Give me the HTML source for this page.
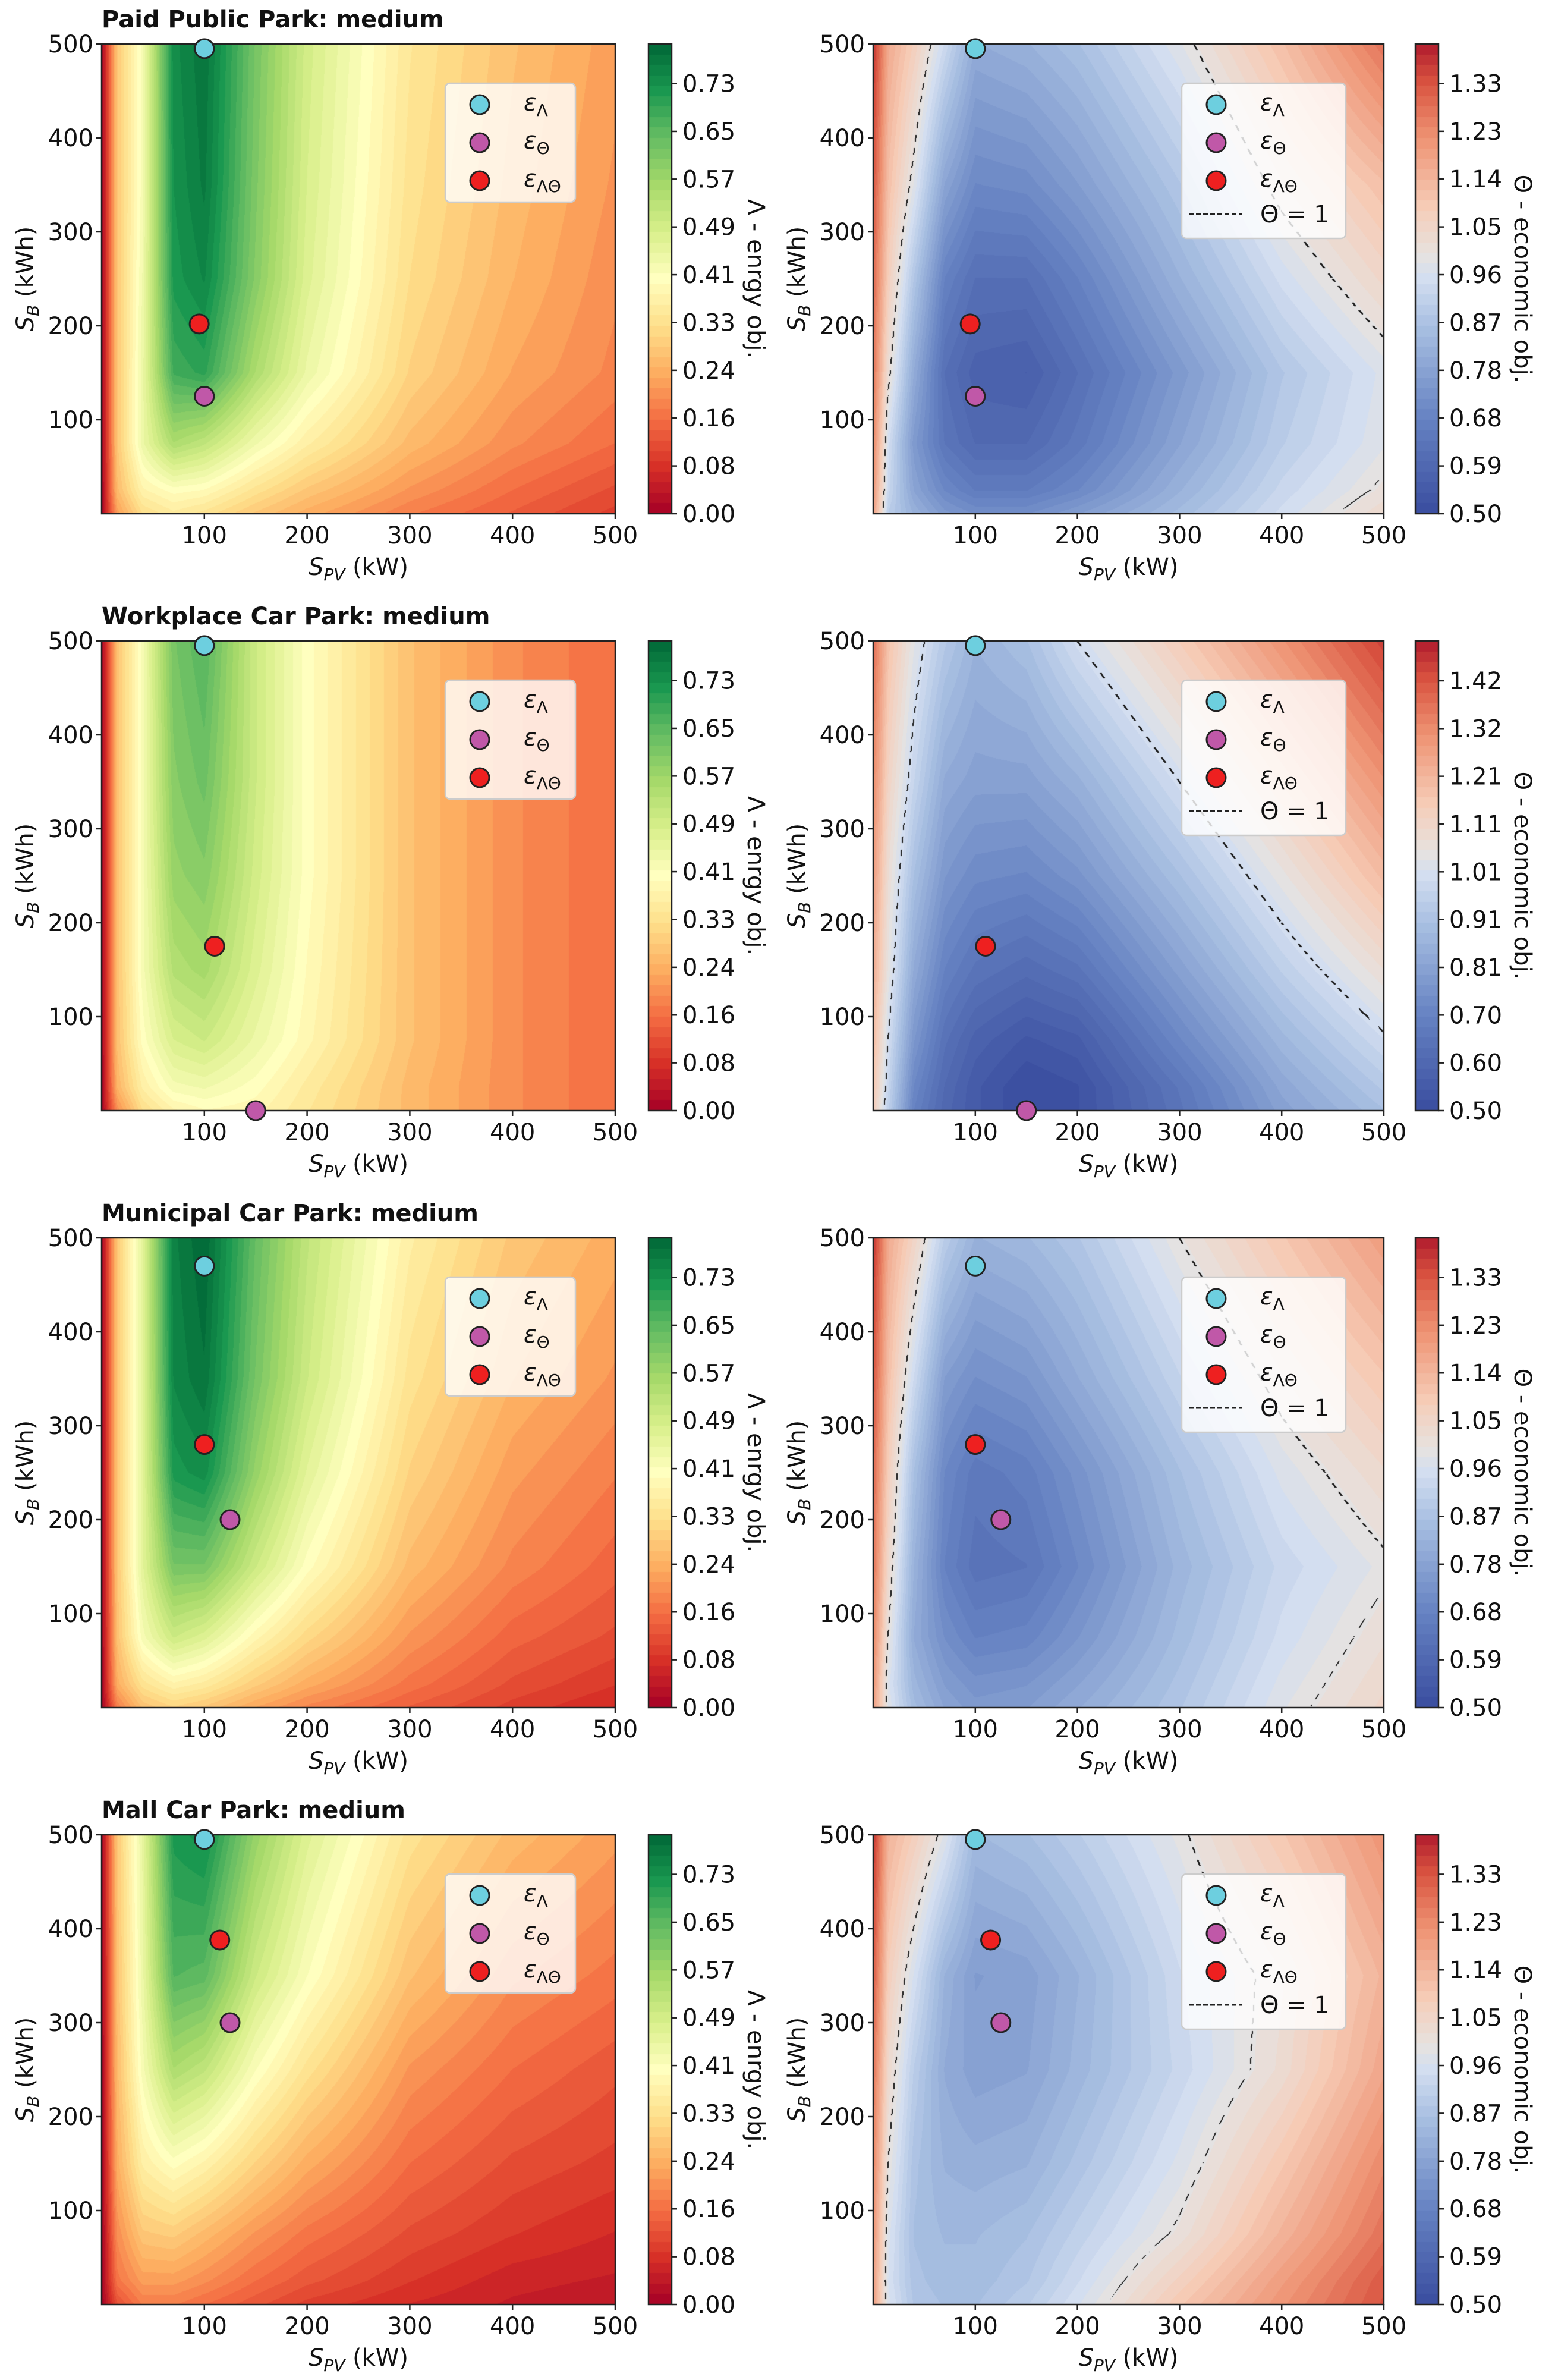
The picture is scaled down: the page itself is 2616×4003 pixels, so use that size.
<!DOCTYPE html>
<html><head><meta charset="utf-8">
<style>
html,body{margin:0;padding:0;background:#fff;}
#wrap{position:relative;width:2616px;height:4003px;overflow:hidden;background:#fff;}
canvas{position:absolute;}
svg{position:absolute;left:0;top:0;}
</style></head>
<body>
<div id="wrap">
<svg id="ov" width="2616" height="4003"></svg>
</div>
<script>
// ---- grid coordinates (data units) ----
const xGrid = [0,15,40,70,100,150,200,300,400,500];
const yGrid = [0,25,75,150,250,350,500];
// ---- energy objective grids (rows = yGrid, cols = xGrid) ----
const paidEnergy = [
[0.0,0.22,0.32,0.35,0.33,0.28,0.24,0.18,0.14,0.10],
[0.0,0.26,0.37,0.40,0.39,0.33,0.28,0.21,0.16,0.12],
[0.0,0.28,0.44,0.55,0.52,0.43,0.36,0.26,0.20,0.16],
[0.0,0.28,0.44,0.68,0.70,0.55,0.44,0.30,0.23,0.19],
[0.0,0.28,0.43,0.72,0.75,0.60,0.47,0.32,0.25,0.20],
[0.0,0.28,0.42,0.73,0.77,0.61,0.48,0.33,0.26,0.21],
[0.0,0.28,0.42,0.74,0.78,0.62,0.49,0.34,0.27,0.22]];
const workEnergy = [
[0.0,0.20,0.32,0.37,0.39,0.38,0.34,0.26,0.20,0.16],
[0.0,0.25,0.36,0.42,0.43,0.40,0.35,0.26,0.20,0.16],
[0.0,0.27,0.40,0.48,0.50,0.44,0.38,0.27,0.20,0.16],
[0.0,0.27,0.42,0.54,0.56,0.47,0.39,0.27,0.20,0.16],
[0.0,0.27,0.42,0.58,0.60,0.49,0.40,0.27,0.20,0.16],
[0.0,0.27,0.42,0.60,0.63,0.50,0.40,0.27,0.20,0.16],
[0.0,0.27,0.42,0.62,0.66,0.50,0.40,0.27,0.20,0.16]];
const muniEnergy = [
[0.0,0.18,0.27,0.30,0.28,0.23,0.19,0.14,0.10,0.07],
[0.0,0.24,0.33,0.37,0.35,0.29,0.24,0.17,0.12,0.09],
[0.0,0.27,0.42,0.50,0.47,0.38,0.31,0.21,0.15,0.12],
[0.0,0.28,0.46,0.62,0.62,0.50,0.40,0.26,0.19,0.15],
[0.0,0.28,0.46,0.72,0.74,0.58,0.46,0.30,0.22,0.18],
[0.0,0.28,0.46,0.75,0.78,0.62,0.50,0.33,0.25,0.21],
[0.0,0.28,0.46,0.76,0.80,0.64,0.52,0.36,0.28,0.24]];
const mallEnergy = [
[0.0,0.12,0.18,0.18,0.16,0.13,0.10,0.07,0.05,0.04],
[0.0,0.17,0.22,0.22,0.20,0.16,0.13,0.09,0.06,0.05],
[0.0,0.20,0.28,0.29,0.26,0.21,0.17,0.12,0.09,0.07],
[0.0,0.24,0.36,0.40,0.37,0.30,0.24,0.16,0.12,0.10],
[0.0,0.26,0.42,0.55,0.52,0.41,0.33,0.21,0.16,0.13],
[0.0,0.27,0.44,0.66,0.65,0.50,0.41,0.27,0.20,0.17],
[0.0,0.28,0.45,0.72,0.74,0.58,0.47,0.33,0.26,0.22]];
// ---- economic objective grids ----
const paidEcon = [
[1.20,0.90,0.82,0.75,0.72,0.72,0.76,0.85,0.95,1.04],
[1.22,0.93,0.78,0.70,0.66,0.66,0.70,0.82,0.93,1.01],
[1.25,0.95,0.75,0.64,0.60,0.60,0.65,0.78,0.90,0.98],
[1.28,1.02,0.80,0.62,0.57,0.56,0.62,0.75,0.88,0.97],
[1.30,1.08,0.88,0.68,0.62,0.62,0.68,0.82,0.95,1.05],
[1.33,1.12,0.98,0.78,0.70,0.71,0.76,0.88,1.02,1.12],
[1.38,1.17,1.08,0.94,0.80,0.82,0.86,0.98,1.12,1.28]];
const workEcon = [
[1.15,0.95,0.70,0.60,0.55,0.50,0.52,0.65,0.80,0.90],
[1.17,0.97,0.72,0.61,0.55,0.50,0.52,0.66,0.82,0.93],
[1.20,1.00,0.77,0.64,0.58,0.54,0.56,0.72,0.87,0.99],
[1.24,1.05,0.83,0.70,0.65,0.62,0.65,0.80,0.95,1.08],
[1.28,1.08,0.90,0.77,0.73,0.72,0.76,0.90,1.05,1.20],
[1.32,1.12,0.97,0.83,0.80,0.80,0.85,1.00,1.15,1.30],
[1.38,1.18,1.04,0.93,0.86,0.90,1.00,1.15,1.30,1.45]];
const muniEcon = [
[1.20,0.98,0.85,0.78,0.75,0.76,0.80,0.88,0.98,1.05],
[1.22,0.97,0.83,0.76,0.73,0.74,0.78,0.87,0.97,1.04],
[1.25,1.00,0.80,0.72,0.68,0.69,0.74,0.85,0.95,1.02],
[1.28,1.04,0.82,0.68,0.63,0.64,0.70,0.83,0.93,0.99],
[1.30,1.08,0.86,0.70,0.65,0.67,0.73,0.86,0.97,1.04],
[1.33,1.12,0.94,0.76,0.72,0.74,0.80,0.92,1.02,1.10],
[1.38,1.17,1.06,0.90,0.82,0.84,0.88,1.00,1.10,1.20]];
const mallEcon = [
[1.20,0.97,0.88,0.86,0.86,0.90,0.96,1.10,1.22,1.33],
[1.20,0.96,0.87,0.85,0.85,0.88,0.94,1.07,1.20,1.32],
[1.22,0.97,0.86,0.84,0.84,0.86,0.91,1.01,1.15,1.28],
[1.25,1.00,0.87,0.82,0.81,0.82,0.87,0.97,1.10,1.24],
[1.28,1.04,0.90,0.80,0.77,0.78,0.83,0.93,1.03,1.18],
[1.32,1.08,0.96,0.82,0.76,0.77,0.82,0.94,1.02,1.15],
[1.38,1.15,1.08,0.98,0.84,0.86,0.90,0.99,1.10,1.22]];
// ---- optimal points [S_PV, S_B] ----
const paidPoints = [[100,495],[100,125],[95,202]];
const workPoints = [[100,495],[150,0],[110,175]];
const muniPoints = [[100,470],[125,200],[100,280]];
const mallPoints = [[100,495],[125,300],[115,388]];
// ---- tick labels ----
const axisTicks = [100,200,300,400,500];
const energyTickLabels = ["0.00","0.08","0.16","0.24","0.33","0.41","0.49","0.57","0.65","0.73"];
const econTickLabelsA = ["0.50","0.59","0.68","0.78","0.87","0.96","1.05","1.14","1.23","1.33"];
const econTickLabelsB = ["0.50","0.60","0.70","0.81","0.91","1.01","1.11","1.21","1.32","1.42"];
const titles = ["Paid Public Park: medium","Workplace Car Park: medium","Municipal Car Park: medium","Mall Car Park: medium"];

const energyStep = 0.0815, energyMax = 0.801;
const econStepA = 0.0922, econMaxA = 1.406;
const econStepB = 0.1022, econMaxB = 1.505;

const rows = [
 {e:paidEnergy, c:paidEcon, p:paidPoints, lab:econTickLabelsA, step:econStepA, max:econMaxA},
 {e:workEnergy, c:workEcon, p:workPoints, lab:econTickLabelsB, step:econStepB, max:econMaxB},
 {e:muniEnergy, c:muniEcon, p:muniPoints, lab:econTickLabelsA, step:econStepA, max:econMaxA},
 {e:mallEnergy, c:mallEcon, p:mallPoints, lab:econTickLabelsA, step:econStepA, max:econMaxA}];

const RdYlGn = ["#a50026","#d73027","#f46d43","#fdae61","#fee08b","#ffffbf","#d9ef8b","#a6d96a","#66bd63","#1a9850","#006837"];
const CoolRd = [[0,"#3a4d9f"],[0.2,"#6582c2"],[0.4,"#a9c0e2"],[0.5,"#d3def0"],[0.55,"#e6e2e0"],[0.65,"#f6cdb8"],[0.8,"#ee9373"],[0.92,"#d8523f"],[1,"#b01c2e"]];
function hex(h){return [parseInt(h.substr(1,2),16),parseInt(h.substr(3,2),16),parseInt(h.substr(5,2),16)];}
function cmapE(t){t=Math.max(0,Math.min(1,t));const s=t*10,i=Math.min(9,Math.floor(s)),f=s-i;const a=hex(RdYlGn[i]),b=hex(RdYlGn[i+1]);return [a[0]+(b[0]-a[0])*f,a[1]+(b[1]-a[1])*f,a[2]+(b[2]-a[2])*f];}
function cmapC(t){t=Math.max(0,Math.min(1,t));for(let i=0;i<CoolRd.length-1;i++){if(t<=CoolRd[i+1][0]){const f=(t-CoolRd[i][0])/(CoolRd[i+1][0]-CoolRd[i][0]);const a=hex(CoolRd[i][1]),b=hex(CoolRd[i+1][1]);return [a[0]+(b[0]-a[0])*f,a[1]+(b[1]-a[1])*f,a[2]+(b[2]-a[2])*f];}}return hex(CoolRd[CoolRd.length-1][1]);}
function seg(arr,v){for(let i=0;i<arr.length-1;i++){if(v<=arr[i+1])return [i,(v-arr[i])/(arr[i+1]-arr[i])];}return [arr.length-2,1];}
function interp(g,x,y){const [i,fx]=seg(xGrid,x),[j,fy]=seg(yGrid,y);const a=g[j][i],b=g[j][i+1],c=g[j+1][i],d=g[j+1][i+1];return (a*(1-fx)+b*fx)*(1-fy)+(c*(1-fx)+d*fx)*fy;}

const wrap=document.getElementById('wrap');
const NL=45;
function field(left,top,w,h,grid,vmin,vmax,cm,contour,name){
 const cv=document.createElement('canvas');cv.width=w;cv.height=h;cv.style.left=left+'px';cv.style.top=top+'px';
 
 
 wrap.insertBefore(cv,document.getElementById('ov'));
 const ctx=cv.getContext('2d');const im=ctx.createImageData(w,h);
 const vals=new Float32Array(w*h);
 for(let py=0;py<h;py++){const y=(1-(py+0.5)/h)*500;for(let px=0;px<w;px++){vals[py*w+px]=interp(grid,(px+0.5)/w*500,y);}}
 for(let k=0;k<w*h;k++){const v=vals[k];let idx=Math.floor((v-vmin)/(vmax-vmin)*NL);idx=Math.max(0,Math.min(NL-1,idx));const c=cm((idx+0.5)/NL);im.data[k*4]=c[0];im.data[k*4+1]=c[1];im.data[k*4+2]=c[2];im.data[k*4+3]=255;}
 if(contour){for(let py=0;py<h-2;py++)for(let px=0;px<w-2;px++){const v=vals[py*w+px]-1;const r=vals[py*w+px+2]-1,d=vals[(py+2)*w+px]-1;
  if((v<0)!=(r<0)||(v<0)!=(d<0)){
   const gx=Math.abs(r-v), gy=Math.abs(d-v);
   // along-line coordinate: steep line (gradient mostly in x) -> use y; flat line -> use x
   const s = gx>gy ? py*Math.sqrt(1+(gy/gx)*(gy/gx)) : px*Math.sqrt(1+(gx/(gy||1e-9))*(gx/(gy||1e-9)));
   if(Math.floor(s/11)%2==0){const k=py*w+px;im.data[k*4]=25;im.data[k*4+1]=25;im.data[k*4+2]=25;}}}}
 ctx.putImageData(im,0,0);
}
function cbar(left,top,w,h,vmin,vmax,cm,name){
 const cv=document.createElement('canvas');cv.width=w;cv.height=h;cv.style.left=left+'px';cv.style.top=top+'px';
 
 
 wrap.insertBefore(cv,document.getElementById('ov'));
 const ctx=cv.getContext('2d');
 for(let py=0;py<h;py++){const v=vmin+(1-(py+0.5)/h)*(vmax-vmin);let idx=Math.floor((v-vmin)/(vmax-vmin)*NL);idx=Math.max(0,Math.min(NL-1,idx));const c=cm((idx+0.5)/NL);ctx.fillStyle='rgb('+c.map(Math.round).join(',')+')';ctx.fillRect(0,py,w,1);}
}
const ov=document.getElementById('ov');const NS='http://www.w3.org/2000/svg';
function mk(tag,attrs,txt){const e=document.createElementNS(NS,tag);for(const k in attrs)e.setAttribute(k,attrs[k]);if(txt!==undefined)e.textContent=txt;ov.appendChild(e);return e;}
const FONT='"DejaVu Sans","Liberation Sans",sans-serif';
const ROW0=74, ROWH=1004, PH=790;
const LX=171, LW=864, RX=1469, RW=859;
const CBL=1091, CBR=2381, CBW=39;
const mcol=["#6dcfdf","#c058a8","#ee2020"];
const mnames=["epsilon-lambda-point","epsilon-theta-point","epsilon-lambda-theta-point"];
const subs=["Λ","Θ","ΛΘ"];

function axes(x0,y0,w,h,prefix){
 const fr=mk('rect',{x:x0,y:y0,width:w,height:h,fill:'none',stroke:'#222','stroke-width':2.5});
 
 
 axisTicks.forEach(t=>{
  const px=x0+t/500*w;
  const tk=mk('line',{x1:px,y1:y0+h,x2:px,y2:y0+h+9,stroke:'#222','stroke-width':2.5});
  
  
  const tl=mk('text',{x:px,y:y0+h+50,'text-anchor':'middle','font-family':FONT,'font-size':40,fill:'#111'},String(t));
  
  
  const py=y0+h-t/500*h;
  const ty=mk('line',{x1:x0-9,y1:py,x2:x0,y2:py,stroke:'#222','stroke-width':2.5});
  
  
  const yl=mk('text',{x:x0-14,y:py+14,'text-anchor':'end','font-family':FONT,'font-size':40,fill:'#111'},String(t));
  
  
 });
 const xl=mk('text',{x:x0+w/2,y:y0+h+103,'text-anchor':'middle','font-family':FONT,'font-size':40,fill:'#111'});
 xl.innerHTML='<tspan font-style="italic">S</tspan><tspan font-style="italic" font-size="28" dy="9">PV</tspan><tspan dy="-9"> (kW)</tspan>';
 
 
 const cx=x0-115, cy=y0+h/2;
 const yl=mk('text',{x:cx,y:cy,'text-anchor':'middle','font-family':FONT,'font-size':40,fill:'#111',transform:'rotate(-90 '+cx+' '+cy+')'});
 yl.innerHTML='<tspan font-style="italic">S</tspan><tspan font-style="italic" font-size="28" dy="9">B</tspan><tspan dy="-9"> (kWh)</tspan>';
 
 
}
function colorbarAxis(x0,y0,h,labels,step,vmin,vmax,title,prefix){
 const fr=mk('rect',{x:x0,y:y0,width:CBW,height:h,fill:'none',stroke:'#222','stroke-width':2.5});
 
 
 labels.forEach((l,i)=>{
  const v=vmin+i*step;const py=y0+h-(v-vmin)/(vmax-vmin)*h;
  const t=mk('line',{x1:x0+CBW,y1:py,x2:x0+CBW+9,y2:py,stroke:'#222','stroke-width':2.5});
  
  
  const tl=mk('text',{x:x0+CBW+18,y:py+14,'font-family':FONT,'font-size':40,fill:'#111'},l);
  
  
 });
 const cx=x0+CBW+128, cy=y0+h/2;
 const tt=mk('text',{x:cx,y:cy,'text-anchor':'middle','font-family':FONT,'font-size':40,fill:'#111',transform:'rotate(90 '+cx+' '+cy+')'},title);
 
 
}
function markers(x0,y0,w,h,pts,prefix){
 pts.forEach((p,i)=>{
  const c=mk('circle',{cx:x0+p[0]/500*w,cy:y0+h-p[1]/500*h,r:16,fill:mcol[i],stroke:'#222','stroke-width':3});
  
  
 });
}
function legend(x0,y0,w,h,withLine,prefix){
 const b=mk('rect',{x:x0,y:y0,width:w,height:h,rx:8,fill:'rgba(255,255,255,0.8)',stroke:'#ccc','stroke-width':2.5});
 
 
 for(let i=0;i<3;i++){
  const yy=y0+36+i*64;
  const c=mk('circle',{cx:x0+58,cy:yy,r:16,fill:mcol[i],stroke:'#222','stroke-width':3});
  
  
  const t=mk('text',{x:x0+132,y:yy+10,'font-family':FONT,'font-size':40,fill:'#111'});
  t.innerHTML='<tspan font-style="italic">ε</tspan><tspan font-size="28" dy="9">'+subs[i]+'</tspan>';
  
  
 }
 if(withLine){
  const yy=y0+220;
  const l=mk('line',{x1:x0+12,y1:yy,x2:x0+102,y2:yy,stroke:'#222','stroke-width':3,'stroke-dasharray':'8,4'});
  
  
  const t=mk('text',{x:x0+132,y:yy+14,'font-family':FONT,'font-size':40,fill:'#111'},'Θ = 1');
  
  
 }
}
rows.forEach((r,k)=>{
 const top=ROW0+k*ROWH;
 const pre='row'+(k+1);
 field(LX,top,LW,PH,r.e,0,energyMax,cmapE,false,pre+'-energy-heatmap');
 cbar(CBL,top,CBW,PH,0,energyMax,cmapE,pre+'-energy-colorbar');
 field(RX,top,RW,PH,r.c,0.5,r.max,cmapC,true,pre+'-economic-heatmap');
 cbar(CBR,top,CBW,PH,0.5,r.max,cmapC,pre+'-economic-colorbar');
 const tt=mk('text',{x:LX,y:top-28,'font-family':FONT,'font-size':40,'font-weight':'bold',fill:'#111'},titles[k]);
 
 
 axes(LX,top,LW,PH,pre+'-energy');
 axes(RX,top,RW,PH,pre+'-economic');
 colorbarAxis(CBL,top,PH,energyTickLabels,energyStep,0,energyMax,'Λ - enrgy obj.',pre+'-energy');
 colorbarAxis(CBR,top,PH,r.lab,r.step,0.5,r.max,'Θ - economic obj.',pre+'-economic');
 legend(749,top+66,219,200,false,pre+'-energy');
 legend(1988,top+66,276,261,true,pre+'-economic');
 markers(LX,top,LW,PH,r.p,pre+'-energy');
 markers(RX,top,RW,PH,r.p,pre+'-economic');
});
</script>
</body></html>
